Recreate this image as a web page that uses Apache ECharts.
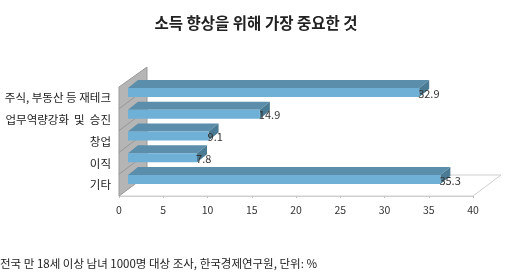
<!DOCTYPE html>
<html><head><meta charset="utf-8">
<script src="https://cdn.jsdelivr.net/npm/echarts@6/dist/echarts.min.js"></script>
<style>html,body{margin:0;padding:0;background:#fff}#c{width:512px;height:274px}</style>
</head><body><div id="c"></div>
<script>
var titleText = '소득 향상을 위해 가장 중요한 것';
var footerText = '전국 만 18세 이상 남녀 1000명 대상 조사, 한국경제연구원, 단위: %';
var categories = ['주식, 부동산 등 재테크', '업무역량강화  및  승진', '창업', '이직', '기타'];
var values = [32.9, 14.9, 9.1, 7.8, 35.3];
var xTicks = [0, 5, 10, 15, 20, 25, 30, 35, 40];

var FONT = "'Noto Sans CJK KR', 'Noto Sans', sans-serif";
var barData = values.map(function (v, i) { return [v, i]; });

var chart = echarts.init(document.getElementById('c'), null, {renderer: 'canvas'});

function renderFrame(params, api) {
  var cs = params.coordSys;
  var x = cs.x, top = cs.y, bottom = cs.y + cs.height, right = cs.x + cs.width;
  var dx = 28, dy = -21;
  var band = cs.height / categories.length;
  var children = [];
  // floor
  children.push({type: 'polygon', shape: {points: [[x, bottom], [right, bottom], [right + dx, bottom + dy], [x + dx, bottom + dy]]},
    style: {fill: '#ffffff', stroke: '#cfcfcf', lineWidth: 1}});
  // wall
  children.push({type: 'polygon', shape: {points: [[x, top], [x + dx, top + dy + 1], [x + dx, bottom + dy], [x, bottom]]},
    style: {fill: '#b5b5b5', stroke: '#9a9a9a', lineWidth: 1}});
  for (var i = 1; i < categories.length; i++) {
    var yy = top + i * band;
    children.push({type: 'line', shape: {x1: x, y1: yy, x2: x + dx, y2: yy + dy}, style: {stroke: '#8f8f8f', lineWidth: 0.8}});
  }
  return {type: 'group', children: children};
}

function renderBar(params, api) {
  var v = api.value(0), idx = api.value(1);
  var p0 = api.coord([0, idx]);
  var p1 = api.coord([v, idx]);
  var cy = p0[1];
  var off = 9, dx = 10, dy = -8;
  var xL = p0[0] + off, xR = p1[0] + off;
  var yT = cy - 10, yB = cy - 1;
  return {type: 'group', children: [
    {type: 'polygon', shape: {points: [[xL, yT], [xR, yT], [xR + dx, yT + dy], [xL + dx, yT + dy]]}, style: {fill: '#5b8eaa'}},
    {type: 'polygon', shape: {points: [[xR, yT], [xR + dx, yT + dy], [xR + dx, yB + dy], [xR, yB]]}, style: {fill: '#4b7b94'}},
    {type: 'rect', shape: {x: xL, y: yT, width: xR - xL, height: yB - yT}, style: {fill: '#6eb0d6'}},
    {type: 'text', style: {x: xR - 1, y: cy - 4.5, text: String(v), fill: '#333', font: '11px ' + FONT, textAlign: 'left', textVerticalAlign: 'middle'}}
  ]};
}

chart.setOption({
  animation: false,
  title: {text: titleText, left: 'center', top: 10, textStyle: {fontFamily: FONT, fontSize: 15.5, fontWeight: 'bold', color: '#222'}},
  graphic: [{type: 'text', left: 0, top: 258, style: {text: footerText, fill: '#222', font: '11.5px ' + FONT}}],
  grid: {left: 119, right: 39, top: 87, bottom: 78},
  xAxis: {type: 'value', min: 0, max: 40, interval: 5,
    axisLine: {show: true, lineStyle: {color: '#cfcfcf'}},
    axisTick: {show: true, length: 2, lineStyle: {color: '#bbbbbb'}},
    splitLine: {show: false},
    axisLabel: {margin: 9, fontSize: 10.5, color: '#333', fontFamily: FONT,
      formatter: function (val) { return xTicks.indexOf(val) >= 0 ? String(val) : ''; }}},
  yAxis: {type: 'category', data: categories, inverse: true,
    axisLine: {show: false}, axisTick: {show: false}, splitLine: {show: false},
    axisLabel: {margin: 8, fontSize: 11.5, color: '#222', fontFamily: FONT, padding: [0, 0, 5, 0]}},
  series: [
    {type: 'custom', name: 'frame', data: [[0, 0]], encode: {x: 0, y: 1}, renderItem: renderFrame, z: 1, silent: true},
    {type: 'custom', name: 'bars', data: barData, encode: {x: 0, y: 1}, renderItem: renderBar, z: 3}
  ]
});
</script></body></html>
